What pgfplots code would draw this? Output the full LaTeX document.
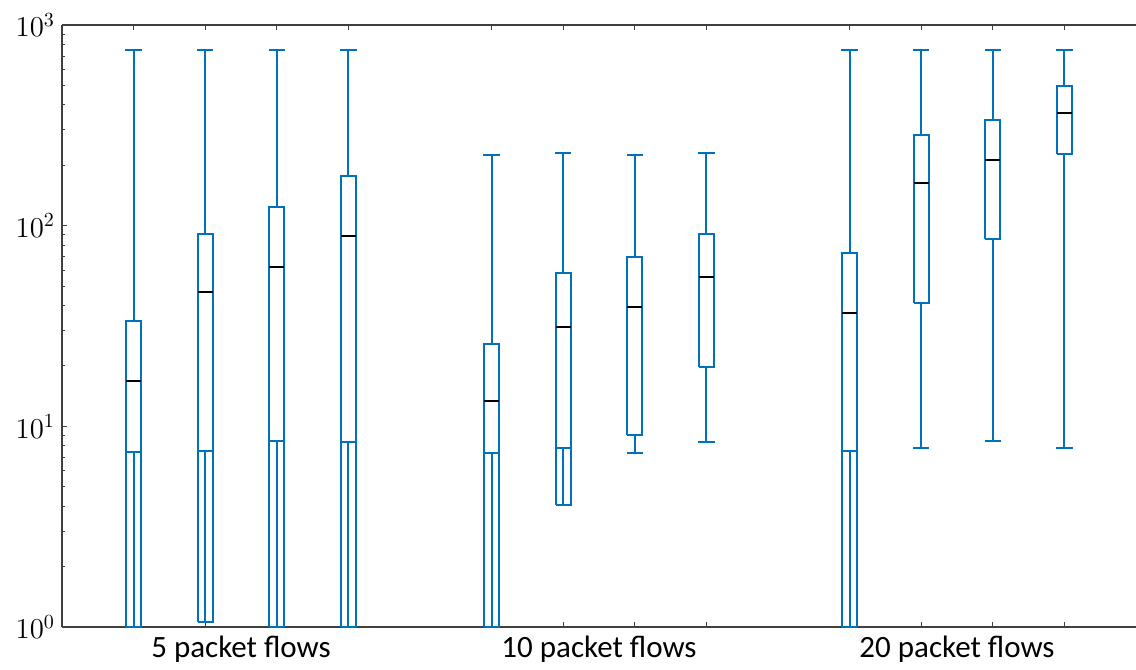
\documentclass[border=0pt]{standalone}
\usepackage{pgfplots}
\pgfplotsset{compat=1.18}
\usetikzlibrary{calc}
\usepackage{fontspec}
\newfontfamily\calib{Carlito}
\definecolor{mblue}{RGB}{0,114,189}
\definecolor{axc}{RGB}{64,64,64}
\tikzset{
  bx/.style={draw=mblue, line width=1pt, mark=none, line join=miter},
  md/.style={draw=black, line width=1pt, mark=none},
}
\begin{document}
\begin{tikzpicture}
\begin{axis}[
  name=ax, scale only axis, width=537pt, height=301pt,
  unbounded coords=jump,
  ymode=log, ymin=1, ymax=1000, xmin=0, xmax=15,
  separate axis lines, axis x line=box, axis y line=left,
  axis line style={-, draw=axc, line width=0.7pt},
  tick align=inside, major tick length=2.5pt, minor tick length=1.6pt,
  tick style={axc, line width=0.5pt},
  xtick={2.5,7.5,12.5},
  xticklabels={5 packet flows,10 packet flows,20 packet flows},
  xticklabel style={font=\calib\fontsize{15.5}{18}\selectfont, yshift=-1pt},
  xtick style={draw=none},
  extra x ticks={1,2,3,4,6,7,8,9,11,12,13,14},
  extra x tick labels={,,,,,,,,,,,},
  extra x tick style={xtick style={draw=axc, line width=0.5pt}},
  ytick={1,10,100,1000},
  yticklabel style={font=\fontsize{14}{16}\selectfont},
]
% ---- group 1: 5 packet flows
\addplot[bx] coordinates {(0.895,1) (1.105,1) (1.105,33.5) (0.895,33.5) (0.895,1) (1,nan)
  (1,33.5) (1,750) (1,nan) (0.885,750) (1.115,750) (1,nan)
  (0.895,7.45) (1.105,7.45) (1,nan) (1,1) (1,7.45)};
\addplot[bx] coordinates {(1.895,1.055) (2.105,1.055) (2.105,90.9) (1.895,90.9) (1.895,1.055) (2,nan)
  (2,90.9) (2,750) (2,nan) (1.885,750) (2.115,750) (2,nan)
  (1.895,7.56) (2.105,7.56) (2,nan) (2,1.055) (2,7.56)};
\addplot[bx] coordinates {(2.895,1) (3.105,1) (3.105,124) (2.895,124) (2.895,1) (3,nan)
  (3,124) (3,750) (3,nan) (2.885,750) (3.115,750) (3,nan)
  (2.895,8.45) (3.105,8.45) (3,nan) (3,1) (3,8.45)};
\addplot[bx] coordinates {(3.895,1) (4.105,1) (4.105,176.8) (3.895,176.8) (3.895,1) (4,nan)
  (4,176.8) (4,750) (4,nan) (3.885,750) (4.115,750) (4,nan)
  (3.895,8.36) (4.105,8.36) (4,nan) (4,1) (4,8.36)};
% ---- group 2: 10 packet flows
\addplot[bx] coordinates {(5.895,1) (6.105,1) (6.105,25.7) (5.895,25.7) (5.895,1) (6,nan)
  (6,25.7) (6,224) (6,nan) (5.885,224) (6.115,224) (6,nan)
  (5.895,7.36) (6.105,7.36) (6,nan) (6,1) (6,7.36)};
\addplot[bx] coordinates {(6.895,4.07) (7.105,4.07) (7.105,58.1) (6.895,58.1) (6.895,4.07) (7,nan)
  (7,58.1) (7,230) (7,nan) (6.885,230) (7.115,230) (7,nan)
  (6.895,7.77) (7.105,7.77) (7,nan) (7,4.07) (7,7.77)};
\addplot[bx] coordinates {(7.895,9.09) (8.105,9.09) (8.105,69.8) (7.895,69.8) (7.895,9.09) (8,nan)
  (8,69.8) (8,224) (8,nan) (7.885,224) (8.115,224) (8,nan)
  (8,9.09) (8,7.39) (8,nan) (7.885,7.39) (8.115,7.39)};
\addplot[bx] coordinates {(8.895,19.8) (9.105,19.8) (9.105,90.9) (8.895,90.9) (8.895,19.8) (9,nan)
  (9,90.9) (9,230) (9,nan) (8.885,230) (9.115,230) (9,nan)
  (9,19.8) (9,8.33) (9,nan) (8.885,8.33) (9.115,8.33)};
% ---- group 3: 20 packet flows
\addplot[bx] coordinates {(10.895,1) (11.105,1) (11.105,73.1) (10.895,73.1) (10.895,1) (11,nan)
  (11,73.1) (11,750) (11,nan) (10.885,750) (11.115,750) (11,nan)
  (10.895,7.56) (11.105,7.56) (11,nan) (11,1) (11,7.56)};
\addplot[bx] coordinates {(11.895,41.2) (12.105,41.2) (12.105,283) (11.895,283) (11.895,41.2) (12,nan)
  (12,283) (12,750) (12,nan) (11.885,750) (12.115,750) (12,nan)
  (12,41.2) (12,7.77) (12,nan) (11.885,7.77) (12.115,7.77)};
\addplot[bx] coordinates {(12.895,85.8) (13.105,85.8) (13.105,336) (12.895,336) (12.895,85.8) (13,nan)
  (13,336) (13,750) (13,nan) (12.885,750) (13.115,750) (13,nan)
  (13,85.8) (13,8.42) (13,nan) (12.885,8.42) (13.115,8.42)};
\addplot[bx] coordinates {(13.895,227.6) (14.105,227.6) (14.105,496) (13.895,496) (13.895,227.6) (14,nan)
  (14,496) (14,750) (14,nan) (13.885,750) (14.115,750) (14,nan)
  (14,227.6) (14,7.77) (14,nan) (13.885,7.77) (14.115,7.77)};
% ---- medians
\addplot[md] coordinates {(0.895,16.8) (1.105,16.8) (1,nan) (1.895,46.5) (2.105,46.5) (2,nan)
  (2.895,62.2) (3.105,62.2) (3,nan) (3.895,88.8) (4.105,88.8) (4,nan)
  (5.895,13.4) (6.105,13.4) (6,nan) (6.895,31.3) (7.105,31.3) (7,nan)
  (7.895,39.3) (8.105,39.3) (8,nan) (8.895,55.5) (9.105,55.5) (9,nan)
  (10.895,36.7) (11.105,36.7) (11,nan) (11.895,163) (12.105,163) (12,nan)
  (12.895,212) (13.105,212) (13,nan) (13.895,364) (14.105,364)};
\end{axis}
\pgfresetboundingbox
\path[use as bounding box] ($(ax.south west)+(-31pt,-21pt)$) rectangle ($(ax.north east)+(0pt,12.5pt)$);
\end{tikzpicture}
\end{document}
